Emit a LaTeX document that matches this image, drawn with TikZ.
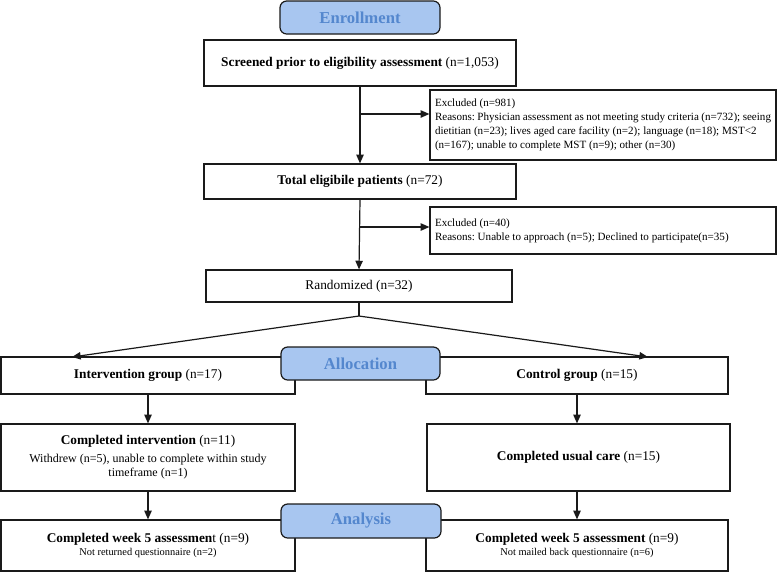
\documentclass[tikz,border=0pt]{standalone}
\usepackage{fontspec}
\setmainfont{Liberation Serif}
\usetikzlibrary{arrows.meta}
\definecolor{hdrfill}{HTML}{A8C6F0}
\definecolor{hdrtext}{HTML}{5487CE}
\definecolor{lin}{HTML}{1A1A1A}
\frenchspacing
\begin{document}
\begin{tikzpicture}[x=0.75pt,y=-0.75pt,
  box/.style={draw=lin, line width=0.9pt, fill=white, inner sep=0pt, align=center, font=\fontsize{10}{12}\selectfont},
  exbox/.style={draw=lin, line width=0.9pt, fill=white, inner sep=0pt, align=flush left, text width=252pt, font=\fontsize{8.3}{10.4}\selectfont},
  hdr/.style={draw=lin, line width=0.9pt, fill=hdrfill, rounded corners=5pt, text=hdrtext, inner sep=0pt, font=\fontsize{12.5}{14}\selectfont\bfseries},
  arr/.style={draw=lin, line width=0.9pt, -{Triangle[length=6.5pt,width=5.5pt]}},
  ln/.style={draw=lin, line width=0.9pt}]
\useasboundingbox (0,0) rectangle (778,572);

% boxes
\node[box, minimum width=234pt, minimum height=34.5pt] (scr) at (360,63) {\textbf{Screened prior to eligibility assessment} (n=1,053)};
\node[exbox, minimum width=259.5pt, minimum height=52.5pt] (ex1) at (603,125) {Excluded (n=981)\\
Reasons: Physician assessment as not meeting study criteria (n=732); seeing\\
dietitian (n=23); lives aged care facility (n=2); language (n=18); MST<2\\
(n=167); unable to complete MST (n=9); other (n=30)};
\node[box, minimum width=234pt, minimum height=26.25pt] (tot) at (360,181.5) {\textbf{Total eligibile patients} (n=72)};
\node[exbox, minimum width=259.5pt, minimum height=35.25pt] (ex2) at (603,230.5) {Excluded (n=40)\\
Reasons: Unable to approach (n=5); Declined to participate(n=35)};
\node[box, minimum width=229.5pt, minimum height=24pt] (rnd) at (359,286) {Randomized (n=32)};

\node[box, minimum width=220.5pt, minimum height=27.75pt] (int) at (148,375.5) {\textbf{Intervention group} (n=17)};
\node[box, minimum width=226.5pt, minimum height=27.75pt] (ctl) at (577,375.5) {\textbf{Control group} (n=15)};
\node[box, minimum width=220.5pt, minimum height=50.25pt] (cint) at (148,457.5) {\textbf{Completed intervention} (n=11)\\[1pt]
\fontsize{9}{9.75}\selectfont Withdrew (n=5), unable to complete within study\\[-1pt]
\fontsize{9}{9.75}\selectfont timeframe (n=1)};
\node[box, minimum width=227.25pt, minimum height=50.25pt] (cuc) at (578.5,457.5) {\textbf{Completed usual care} (n=15)};
\node[box, minimum width=220.5pt, minimum height=38.25pt] (w5l) at (148,545.5) {\textbf{Completed week 5 assessmen}t (n=9)\\[-2pt]
\fontsize{7.8}{9}\selectfont Not returned questionnaire (n=2)};
\node[box, minimum width=226.5pt, minimum height=38.25pt] (w5r) at (577,545.5) {\textbf{Completed week 5 assessment} (n=9)\\[-2pt]
\fontsize{7.8}{9}\selectfont Not mailed back questionnaire (n=6)};

% headers
\node[hdr, minimum width=120pt, minimum height=24.75pt] (enr) at (360,17.5) {Enrollment};
\node[hdr, minimum width=119.25pt, minimum height=24.75pt] (alc) at (360.5,363.5) {Allocation};
\node[hdr, minimum width=120pt, minimum height=25.5pt] (ana) at (361,521) {Analysis};

% connectors
\coordinate (b1) at (360,114);
\coordinate (b2) at (360,227);
\coordinate (sp) at (359,316);
\coordinate (tl) at (72,357);
\coordinate (tr) at (648,357);
\draw[arr] (scr.south) -- (tot.north);
\draw[arr] (b1) -- (b1 -| ex1.west);
\draw[arr] (tot.south) -- (rnd.north);
\draw[arr] (b2) -- (b2 -| ex2.west);
\draw[ln] (rnd.south) -- (sp);
\draw[arr] (sp) -- (tl);
\draw[arr] (sp) -- (tr);
\draw[arr] (int.south) -- (cint.north);
\draw[arr] (ctl.south) -- (ctl.south |- cuc.north);
\draw[arr] (cint.south) -- (w5l.north);
\draw[arr] (ctl.south |- cuc.south) -- (w5r.north);
\end{tikzpicture}
\end{document}
